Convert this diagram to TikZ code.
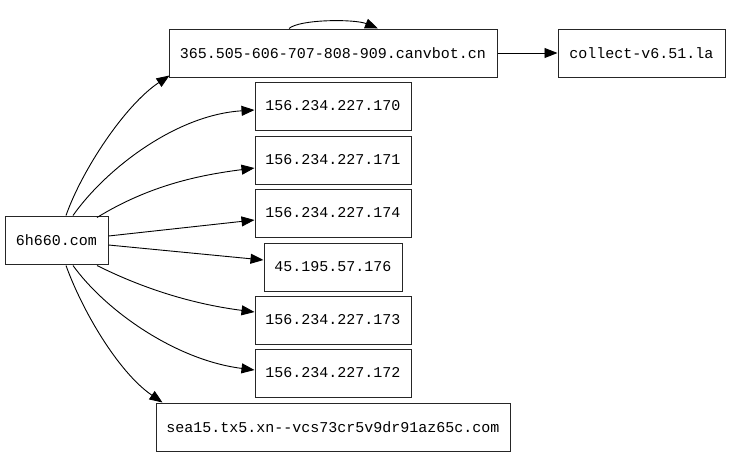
\documentclass[tikz,border=0pt]{standalone}
\usepackage{fontspec}
\setmonofont{Liberation Mono}
\usetikzlibrary{arrows.meta,calc}
\begin{document}
\begin{tikzpicture}[x=1pt,y=-1pt,
  box/.style={draw=black!85,line width=1pt,rectangle,inner sep=0pt,minimum height=48pt,font=\ttfamily\fontsize{15}{17}\selectfont},
  edge/.style={draw=black,line width=0.9pt,-{Triangle[length=13pt,width=10pt]}}]
\useasboundingbox (0,0) rectangle (731,456);
\node[box,minimum width=103pt] (src) at (56.5,240) {6h660.com};
\node[box,minimum width=328pt] (top) at (333,53) {365.505-606-707-808-909.canvbot.cn};
\node[box,minimum width=167pt] (col) at (641.5,53) {collect-v6.51.la};
\node[box,minimum width=156pt] (a170) at (333,106) {156.234.227.170};
\node[box,minimum width=156pt] (a171) at (333,160) {156.234.227.171};
\node[box,minimum width=156pt] (a174) at (333,213) {156.234.227.174};
\node[box,minimum width=138pt] (a176) at (333,267) {45.195.57.176};
\node[box,minimum width=156pt] (a173) at (333,320) {156.234.227.173};
\node[box,minimum width=156pt] (a172) at (333,373) {156.234.227.172};
\node[box,minimum width=354pt] (sea) at (333,427) {sea15.tx5.xn--vcs73cr5v9dr91az65c.com};

\draw[edge] ($(src.north)+(9.5,0)$) .. controls (82,170) and (125,105) .. ($(top.south west)+(1,-2)$);
\draw[edge] ($(src.north)+(16.5,0)$) .. controls (105,170) and (175,115) .. ($(a170.west)+(0,4)$);
\draw[edge] ($(src.north)+(40.5,2)$) .. controls (150,185) and (200,175) .. ($(a171.west)+(0,8)$);
\draw[edge] ($(src.east)+(0,-4)$) -- ($(a174.west)+(0,7)$);
\draw[edge] ($(src.east)+(0,5)$) -- ($(a176.west)+(0,-7)$);
\draw[edge] ($(src.south)+(40.5,1)$) .. controls (150,292) and (200,305) .. ($(a173.west)+(0,-8)$);
\draw[edge] ($(src.south)+(16.5,1)$) .. controls (105,310) and (175,360) .. ($(a172.west)+(0,-3)$);
\draw[edge] ($(src.south)+(9.5,1)$) .. controls (82,310) and (118,372) .. ($(sea.north west)+(7,0)$);
\draw[edge] ($(top.north)+(-44,0)$) .. controls (300,19) and (355,19) .. ($(top.north)+(45,0)$);
\draw[edge] (top.east) -- (col.west);
\end{tikzpicture}
\end{document}
